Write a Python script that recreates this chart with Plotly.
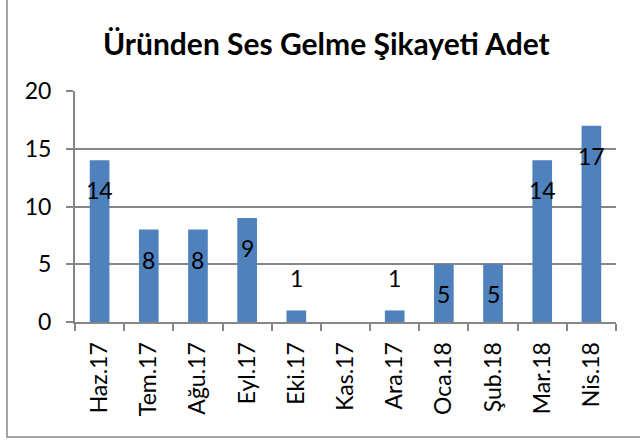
import plotly.graph_objects as go

categories = ["Haz.17", "Tem.17", "Ağu.17", "Eyl.17", "Eki.17", "Kas.17",
              "Ara.17", "Oca.18", "Şub.18", "Mar.18", "Nis.18"]
values = [14, 8, 8, 9, 1, 0, 1, 5, 5, 14, 17]
y_ticks = [0, 5, 10, 15, 20]
title_text = "Üründen Ses Gelme Şikayeti Adet"

FONT = "Lato, Carlito, Calibri, sans-serif"
GRAY = "#868686"
FS = 23

fig = go.Figure()
fig.add_trace(go.Bar(
    x=categories, y=values,
    marker=dict(color="#4F81BD", line=dict(width=0)),
    hoverinfo="x+y",
))

# data labels (value 0 has none)
for c, v in zip(categories, values):
    if v == 0:
        continue
    fig.add_annotation(
        x=c, y=v, text=str(v), showarrow=False,
        yshift=32 if v < 3 else -30,
        font=dict(family=FONT, size=FS, color="black"),
    )

# outer chart border
fig.add_shape(type="rect", xref="paper", yref="paper",
              x0=-0.1257, x1=1.2, y0=-0.498, y1=1.6,
              line=dict(color=GRAY, width=1.5), layer="below")

fig.update_layout(
    width=640, height=441,
    margin=dict(l=75, r=24, t=91, b=119, autoexpand=False),
    paper_bgcolor="white", plot_bgcolor="white",
    bargap=0.6,
    showlegend=False,
    title=dict(text="<b>" + title_text + "</b>", x=0.51, xref="container",
               xanchor="center", y=1 - 44 / 441, yref="container", yanchor="middle",
               font=dict(family=FONT, size=30, color="black")),
    font=dict(family=FONT, size=FS, color="black"),
)
fig.update_xaxes(
    type="category", tickangle=-90, showline=True, linecolor=GRAY, linewidth=2,
    ticks="outside", ticklen=7, tickcolor=GRAY, tickwidth=2, tickson="boundaries",
    showgrid=False, tickfont=dict(family=FONT, size=FS, color="black"),
    automargin=False, ticklabelstandoff=9,
)
fig.update_yaxes(
    range=[0, 20], tickvals=y_ticks, showline=True, linecolor=GRAY, linewidth=2,
    ticks="outside", ticklen=7, tickcolor=GRAY, tickwidth=2,
    showgrid=True, gridcolor=GRAY, gridwidth=2, zeroline=False,
    tickfont=dict(family=FONT, size=FS, color="black"), ticklabelstandoff=10,
    automargin=False,
)

fig.write_html("out.html", config={"displayModeBar": False},
               post_script="document.body.style.margin='0';document.body.style.overflow='hidden';")
